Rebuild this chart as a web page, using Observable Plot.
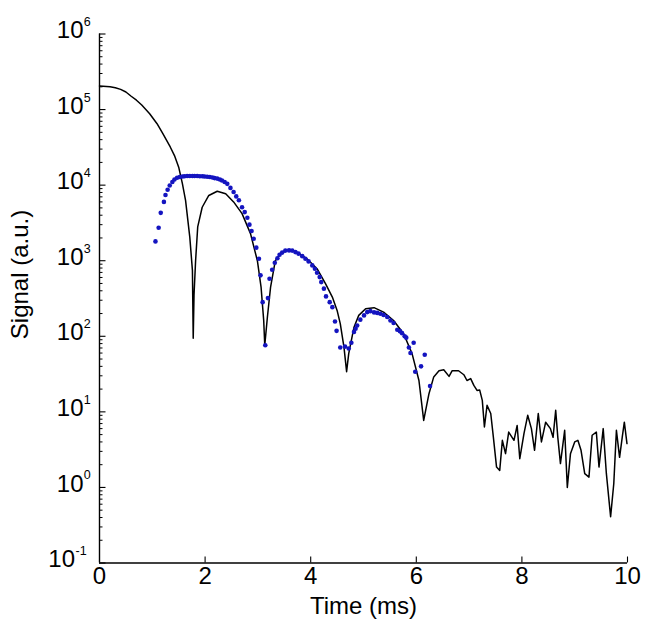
<!DOCTYPE html>
<html><head><meta charset="utf-8">
<script src="https://cdn.jsdelivr.net/npm/d3@7"></script>
<script src="https://cdn.jsdelivr.net/npm/@observablehq/plot@0.6"></script>
<style>body{margin:0;background:#fff}</style>
</head><body><div id="chart"></div>
<script>
// Black curve: [time (ms), signal]
const curve = [
[0,2.05e5],[0.2,2.0e5],[0.3,1.94e5],[0.4,1.85e5],[0.5,1.71e5],[0.6,1.5e5],[0.7,1.33e5],[0.8,1.15e5],[0.95,8.8e4],[1.09,6.5e4],[1.2,4.8e4],
[1.34,3.2e4],[1.42,2.46e4],[1.5,1.73e4],[1.57,1.05e4],[1.63,6300],[1.71,2050],[1.76,745],[1.775,94],
[1.79,350],[1.82,1000],[1.86,2800],[1.945,5100],[2.07,7300],[2.23,8300],[2.39,7700],[2.54,6000],
[2.7,4200],[2.86,2280],[2.99,1000],[3.06,448],[3.11,162],[3.13,76],[3.18,180],[3.24,448],[3.33,1000],
[3.43,1240],[3.585,1400],[3.74,1300],[3.93,1060],[4.12,783],[4.28,497],[4.41,330],[4.5,220],[4.56,147],
[4.63,72],[4.68,34],[4.72,59],[4.82,132],[4.91,189],[5.04,232],[5.2,239],[5.38,209],[5.57,162],[5.76,108],
[5.92,59],[6.05,26],[6.14,7.7],[6.24,17.4],[6.33,29],[6.43,35],[6.52,36],[6.62,29.5],[6.68,35],[6.8,35],
[6.9,31],[6.96,26],[7.03,27.5],[7.09,22.4],[7.15,19.2],[7.2,19.5],[7.25,14.2],[7.29,6.3],[7.34,12.2],
[7.41,9.5],[7.46,4.6],[7.52,1.86],[7.58,1.68],[7.63,4.2],[7.69,2.8],[7.75,5.4],[7.85,4.2],[7.91,6.6],
[7.96,2.4],[8.04,5.2],[8.11,9.0],[8.18,6.0],[8.24,3.1],[8.31,9.5],[8.37,4.0],[8.45,7.3],[8.54,6.0],
[8.59,4.6],[8.64,10.5],[8.68,4.6],[8.73,2.07],[8.81,5.7],[8.86,1.0],[8.92,2.8],[9.0,4.0],[9.06,4.2],
[9.12,3.1],[9.19,1.52],[9.27,1.37],[9.33,4.9],[9.41,5.4],[9.46,1.86],[9.54,6.0],[9.6,1.52],[9.68,0.41],
[9.74,1.12],[9.79,5.7],[9.85,2.5],[9.9,4.6],[9.94,7.3],[9.99,3.8]
];
// Blue dots: [time (ms), signal]
const measured = [
[1.06,1800],[1.12,2730],[1.16,4300],[1.22,6000],[1.25,7400],[1.29,8700],[1.33,9900],[1.38,11000],
[1.42,11900],[1.47,12500],[1.52,12800],[1.57,13000],[1.61,13100],[1.66,13200],[1.71,13200],[1.76,13200],
[1.8,13200],[1.85,13200],[1.9,13100],[1.95,13100],[1.99,13000],[2.04,12900],[2.09,12800],[2.14,12600],
[2.18,12400],[2.23,12200],[2.28,11900],[2.32,11500],[2.37,11000],[2.42,10400],[2.48,9200],[2.54,8100],[2.59,7100],
[2.64,6300],[2.7,5100],[2.75,4400],[2.8,3700],[2.84,3000],[2.88,2470],[2.92,1950],[2.97,1490],[3.02,1060],
[3.05,640],[3.09,283],[3.14,76],[3.19,320],[3.22,578],[3.27,760],[3.32,942],[3.37,1080],[3.41,1200],
[3.46,1280],[3.52,1360],[3.59,1370],[3.65,1360],[3.71,1300],[3.77,1240],[3.84,1150],[3.9,1060],[3.96,980],
[4.03,867],[4.08,783],[4.12,693],[4.17,607],[4.2,521],[4.25,427],[4.29,337],[4.36,283],[4.41,243],
[4.46,157],[4.49,118],[4.56,71],[4.65,73],[4.72,69],[4.77,82],[4.82,114],[4.85,126],[4.88,139],[4.94,166],
[5.01,189],[5.07,209],[5.13,215],[5.2,207],[5.26,204],[5.32,199],[5.38,191],[5.45,180],[5.51,162],
[5.57,150],[5.64,122],[5.69,117],[5.73,110],[5.78,100],[5.81,96],[5.86,71],[5.89,60],[5.95,82],[5.98,34],
[6.09,40],[6.16,57],[6.26,22]
];
const xTicks = [0, 2, 4, 6, 8, 10];
const yExponents = [-1, 0, 1, 2, 3, 4, 5, 6];
const xLabel = "Time (ms)";
const yLabel = "Signal (a.u.)";

const W = 645, H = 626, mL = 99, mR = 18, mT = 33.5, mB = 63.5;
const fw = W - mL - mR, fh = H - mT - mB;
const font = "'Liberation Sans', Arial, Helvetica, sans-serif";

const curveData = curve.map(([t, v]) => ({t, v}));
const dotData = measured.map(([t, v]) => ({t, v}));
const majors = yExponents.map(e => Math.pow(10, e));
const minors = [];
for (const e of yExponents.slice(0, -1)) for (let m = 2; m <= 9; m++) minors.push(m * Math.pow(10, e));
const posExp = yExponents.filter(e => e >= 0);
const negExp = yExponents.filter(e => e < 0);

const chart = Plot.plot({
  width: W, height: H,
  marginLeft: mL, marginRight: mR, marginTop: mT, marginBottom: mB,
  style: {fontFamily: font, background: "white", color: "black", overflow: "visible"},
  x: {domain: [0, 10], axis: null},
  y: {type: "log", domain: [0.1, 1e6], axis: null},
  marks: [
    Plot.lineY(curveData, {x: "t", y: "v", stroke: "black", strokeWidth: 1.5}),
    Plot.dot(dotData, {x: "t", y: "v", r: 2.3, fill: "#1414c0", stroke: "none"}),
    Plot.tickY(majors, {y: d => d, insetRight: fw - 6.5, stroke: "black", strokeWidth: 1.1}),
    Plot.tickY(minors, {y: d => d, insetRight: fw - 3.5, stroke: "black", strokeWidth: 1}),
    Plot.tickX(xTicks.slice(1), {x: d => d, insetTop: fh - 6, stroke: "black", strokeWidth: 1.1}),
    Plot.ruleX([0], {stroke: "black", strokeWidth: 1.4}),
    Plot.ruleY([0.1], {stroke: "black", strokeWidth: 1.4}),
    Plot.text(posExp, {y: e => Math.pow(10, e), text: () => "10", frameAnchor: "left",
      textAnchor: "end", dx: -16, dy: -3.5, fontSize: 24}),
    Plot.text(negExp, {y: e => Math.pow(10, e), text: () => "10", frameAnchor: "left",
      textAnchor: "end", dx: -24.5, dy: -3.5, fontSize: 24}),
    Plot.text(posExp, {y: e => Math.pow(10, e), text: e => String(e), frameAnchor: "left",
      textAnchor: "start", dx: -15.8, dy: -12, fontSize: 12.5}),
    Plot.text(negExp, {y: e => Math.pow(10, e), text: e => String(e), frameAnchor: "left",
      textAnchor: "start", dx: -24, dy: -12, fontSize: 12.5}),
    Plot.text(xTicks, {x: d => d, text: d => String(d), frameAnchor: "bottom", lineAnchor: "top",
      dy: 4, fontSize: 24}),
    Plot.text([xLabel], {x: 5, text: d => d, frameAnchor: "bottom", lineAnchor: "bottom", dy: 51, fontSize: 24}),
    Plot.text([yLabel], {text: d => d, frameAnchor: "left", rotate: -90, lineAnchor: "bottom",
      textAnchor: "middle", dx: -71.5, dy: -24, fontSize: 24})
  ]
});
document.getElementById("chart").appendChild(chart);
</script>
</body></html>
